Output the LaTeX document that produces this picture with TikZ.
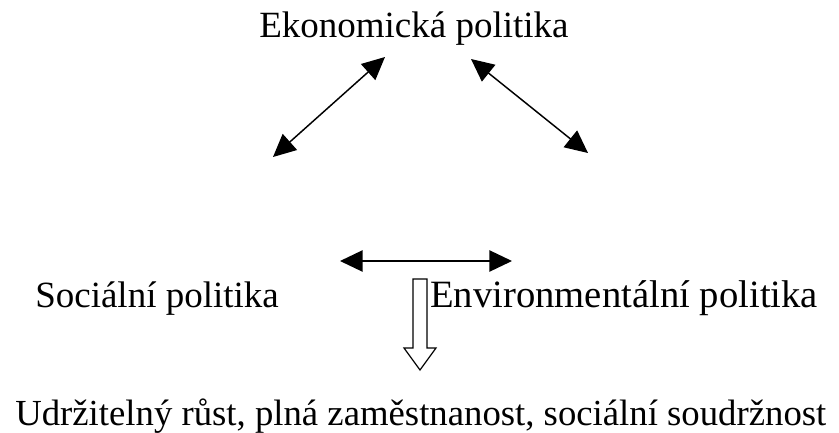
\documentclass[tikz,border=0pt]{standalone}
\usepackage{fontspec}
\setmainfont{Liberation Serif}
\usetikzlibrary{arrows.meta}
\begin{document}
\begin{tikzpicture}[x=0.75pt,y=-0.75pt,
  lbl/.style={inner sep=0pt,anchor=base west,font=\fontsize{27.75pt}{33pt}\selectfont},
  dbl/.style={line width=1.1pt,{Triangle[length=17pt,width=16pt]}-{Triangle[length=17pt,width=16pt]}},
  hollow/.style={line width=0.9pt,fill=white,line join=miter}]
\useasboundingbox (0,0) rectangle (839,432);
\node[lbl] (eko) at (259,37) {Ekonomická politika};
\node[lbl] (soc) at (35,307) {Sociální politika};
\node[lbl,font=\fontsize{29pt}{33pt}\selectfont] (env) at (430,307) {Environmentální politika};
\node[lbl,font=\fontsize{27.55pt}{33pt}\selectfont] (res) at (15,425) {Udržitelný růst, plná zaměstnanost, sociální soudržnost};
\coordinate (l1) at (273,157);
\coordinate (l2) at (385,57);
\coordinate (r1) at (471,59);
\coordinate (r2) at (588,153);
\coordinate (h1) at (340,261);
\coordinate (h2) at (512,261);
\draw[dbl] (l1) -- (l2);
\draw[dbl] (r1) -- (r2);
\draw[dbl] (h1) -- (h2);
\coordinate (ha) at (413,279);
\coordinate (hb) at (427,279);
\coordinate (tip) at (420,370);
\draw[hollow] (ha) -- (hb) -- (427,348) -- (436,348) -- (tip) -- (404,348) -- (413,348) -- cycle;
\end{tikzpicture}
\end{document}
